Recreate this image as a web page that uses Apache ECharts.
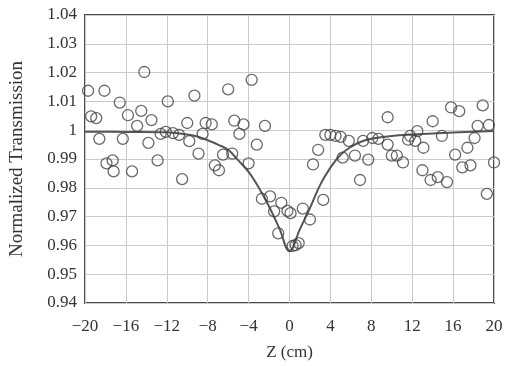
<!DOCTYPE html>
<html>
<head>
<meta charset="utf-8">
<script src="https://cdn.jsdelivr.net/npm/echarts@6/dist/echarts.min.js"></script>
<style>
  html, body { margin: 0; padding: 0; background: #fff; }
  #chart { width: 506px; height: 366px; }
</style>
</head>
<body>
<div id="chart"></div>
<script>
// measured points (z in cm, normalized transmission)
const zPoints = [
  -19.7, -18.1, -16.6, -11.9, -14.5, -15.8, -19.4, -18.9, -13.5, -14.9,
  -10.0, -18.6, -16.3, -13.8, -12.6, -12.1, -11.4, -10.8, -12.9, -17.9,
  -17.3, -17.2, -15.4, -10.5, -14.2,
  -3.7, -6.0, -9.3, -8.2, -7.6, -5.4, -4.5, -2.4, -4.9, -8.5,
  -9.8, -3.2, -8.9, -6.5, -5.6, -4.0, -7.3, -6.9,
  -2.7, -1.9, -0.8, -1.5, -0.2, 0.1, 1.3, 2.0, 3.3, -1.1,
  0.3, 0.9, 0.6,
  9.6, 3.5, 4.0, 4.5, 5.0, 5.8, 7.2, 8.1, 8.7, 9.6,
  10.0, 2.8, 2.3, 5.2, 6.4, 7.7, 6.9,
  15.8, 16.6, 18.9, 14.0, 18.4, 19.5, 12.5, 11.8, 11.6, 12.3,
  14.9, 18.1, 13.1, 17.4, 10.5, 11.1, 16.2, 16.9, 17.7, 13.0,
  13.8, 14.5, 15.4, 19.3, 20.0
]
const tPoints = [
  1.0137, 1.0137, 1.0096, 1.0100, 1.0067, 1.0052, 1.0048, 1.0042, 1.0035, 1.0015,
  1.0025, 0.9970, 0.9970, 0.9956, 0.9987, 0.9994, 0.9990, 0.9984, 0.9895, 0.9885,
  0.9895, 0.9857, 0.9857, 0.9830, 1.0202,
  1.0175, 1.0142, 1.0120, 1.0025, 1.0020, 1.0033, 1.0020, 1.0015, 0.9987, 0.9987,
  0.9962, 0.9950, 0.9919, 0.9915, 0.9919, 0.9885, 0.9878, 0.9861,
  0.9762, 0.9770, 0.9748, 0.9718, 0.9720, 0.9712, 0.9728, 0.9690, 0.9758, 0.9642,
  0.9598, 0.9608, 0.9601,
  1.0045, 0.9984, 0.9984, 0.9980, 0.9977, 0.9963, 0.9963, 0.9973, 0.9970, 0.9950,
  0.9912, 0.9932, 0.9881, 0.9905, 0.9912, 0.9898, 0.9827,
  1.0079, 1.0066, 1.0086, 1.0031, 1.0015, 1.0018, 0.9997, 0.9980, 0.9967, 0.9963,
  0.9980, 0.9973, 0.9939, 0.9939, 0.9912, 0.9888, 0.9915, 0.9871, 0.9878, 0.9861,
  0.9827, 0.9837, 0.9820, 0.9779, 0.9888
]

// fitted curve
const zFit = [-20, -16, -12, -10, -9, -8, -7, -6, -5, -4, -3, -2, -1, 0,
  1, 2, 3, 4, 5, 6, 7, 8, 10, 12, 16, 20]
const tFit = [0.9995, 0.9994, 0.9993, 0.9985, 0.9978, 0.9965, 0.9950, 0.9932, 0.9895, 0.9855, 0.9800, 0.9735, 0.9660, 0.9580,
  0.9655, 0.9730, 0.9810, 0.9870, 0.9915, 0.9942, 0.9960, 0.9970, 0.9980, 0.9985, 0.9992, 0.9997]

const xTicks = [-20, -16, -12, -8, -4, 0, 4, 8, 12, 16, 20]
const yTicks = [0.94, 0.95, 0.96, 0.97, 0.98, 0.99, 1, 1.01, 1.02, 1.03, 1.04]

const font = 'Liberation Serif'
const ink = '#333'

const chart = echarts.init(document.getElementById('chart'))

const option = {
  backgroundColor: '#fff',
  animation: false,
  grid: {
    left: 84, right: 12, top: 15, bottom: 58,
    show: true,
    borderColor: '#4d4d4d',
    borderWidth: 2
  },
  xAxis: {
    type: 'value',
    min: xTicks[0],
    max: xTicks[xTicks.length - 1],
    interval: 4,
    name: 'Z (cm)',
    nameLocation: 'middle',
    nameGap: 41,
    nameTextStyle: { fontFamily: font, fontSize: 17, color: ink },
    axisLine: { show: false },
    axisTick: { show: false },
    axisLabel: {
      fontFamily: font, fontSize: 17, color: ink, margin: 15,
      formatter: v => v < 0 ? '\u2212' + (-v) : String(v)
    },
    splitLine: { lineStyle: { color: '#c9cbcd', width: 1 } }
  },
  yAxis: {
    type: 'value',
    min: yTicks[0],
    max: yTicks[yTicks.length - 1],
    interval: 0.01,
    name: 'Normalized Transmission',
    nameLocation: 'middle',
    nameGap: 58,
    nameTextStyle: { fontFamily: font, fontSize: 19, color: ink },
    axisLine: { show: false },
    axisTick: { show: false },
    axisLabel: {
      fontFamily: font, fontSize: 17, color: ink, margin: 8,
      padding: [9, 0, 0, 0],
      formatter: v => String(+v.toFixed(2))
    },
    splitLine: { lineStyle: { color: '#c9cbcd', width: 1 } }
  },
  series: [
    {
      type: 'line',
      data: zFit.map((z, i) => [z, tFit[i]]),
      smooth: 0.4,
      symbol: 'none',
      lineStyle: { color: '#555', width: 2 },
      z: 2
    },
    {
      type: 'scatter',
      data: zPoints.map((z, i) => [z, tPoints[i]]),
      symbol: 'circle',
      symbolSize: 11,
      itemStyle: { color: 'rgba(255,255,255,0)', borderColor: '#444', borderWidth: 1.3 },
      z: 3
    }
  ]
}

chart.setOption(option)
</script>
</body>
</html>
